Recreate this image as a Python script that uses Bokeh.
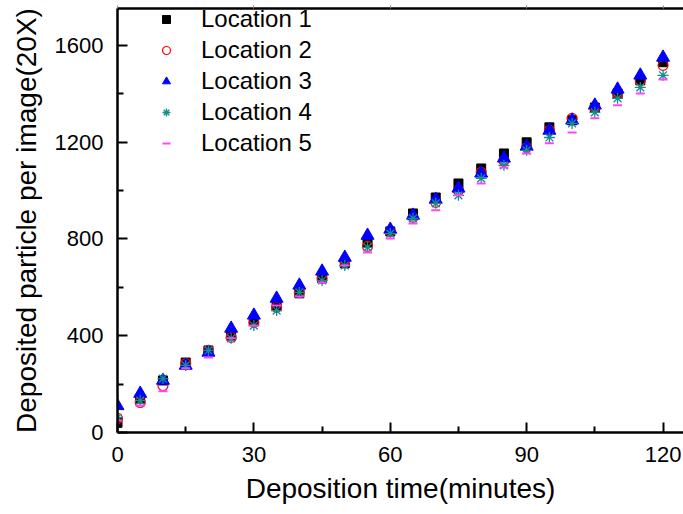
from bokeh.plotting import figure
from bokeh.models import ColumnDataSource, FixedTicker, LinearAxis, Range1d, Legend, LegendItem
from bokeh.embed import file_html
from bokeh.resources import INLINE

time_min = [0, 5, 10, 15, 20, 25, 30, 35, 40, 45, 50, 55, 60, 65, 70, 75, 80, 85, 90, 95, 100, 105, 110, 115, 120]
loc1 = [40, 140, 215, 289, 339, 401, 463, 525, 575, 637, 699, 785, 831, 905, 971, 1029, 1091, 1153, 1199, 1261, 1290, 1343, 1401, 1455, 1530]
loc2 = [58, 124, 194, 285, 339, 393, 455, 517, 579, 637, 711, 769, 831, 889, 951, 1000, 1075, 1124, 1178, 1248, 1298, 1343, 1401, 1455, 1517]
loc3 = [110, 161, 215, 277, 331, 430, 484, 554, 608, 666, 723, 814, 839, 897, 963, 1009, 1071, 1133, 1182, 1248, 1290, 1352, 1418, 1476, 1550]
loc4 = [62, 132, 223, 277, 339, 389, 442, 504, 579, 628, 690, 765, 822, 885, 947, 980, 1050, 1104, 1166, 1219, 1277, 1323, 1381, 1426, 1476]
loc5 = [50, 112, 170, 265, 310, 389, 442, 525, 562, 620, 690, 744, 802, 864, 918, 980, 1029, 1095, 1153, 1195, 1240, 1298, 1352, 1401, 1459]
labels = ["Location 1", "Location 2", "Location 3", "Location 4", "Location 5"]
x_ticks = [0, 30, 60, 90, 120]
x_minor = [15, 45, 75, 105]
y_ticks = [0, 400, 800, 1200, 1600]
y_minor = [200, 600, 1000, 1400]

FONT = "Liberation Sans"

p = figure(width=683, height=514, output_backend="svg", toolbar_location=None,
           x_range=Range1d(0, 124.5), y_range=Range1d(0, 1752),
           min_border_left=117, min_border_right=0, min_border_top=8, min_border_bottom=82)
p.outline_line_color = None
p.xgrid.visible = False
p.ygrid.visible = False
p.background_fill_color = "white"

src = ColumnDataSource(dict(x=time_min, l1=loc1, l2=loc2, l3=loc3, l4=loc4, l5=loc5))

r1 = p.scatter("x", "l1", source=src, marker="square", size=9, fill_color="black", line_color="black")
r2 = p.scatter("x", "l2", source=src, marker="circle", size=10, fill_color=None, line_color="red", line_width=1.2)
r3 = p.scatter("x", "l3", source=src, marker="triangle", size=13, fill_color="blue", line_color="blue")
r4 = p.scatter("x", "l4", source=src, marker="asterisk", size=11, line_color="#148c8c", line_width=1.3)
r5 = p.scatter("x", "l5", source=src, marker="dash", size=9, line_color="#ff44ff", line_width=2)

for ax, ticks, minor in ((p.xaxis[0], x_ticks, x_minor), (p.yaxis[0], y_ticks, y_minor)):
    ax.ticker = FixedTicker(ticks=ticks, minor_ticks=minor)
    ax.axis_line_width = 2.5
    ax.axis_line_color = "black"
    ax.major_tick_in = 10
    ax.major_tick_out = 0
    ax.minor_tick_in = 6
    ax.minor_tick_out = 0
    ax.major_tick_line_width = 2
    ax.minor_tick_line_width = 2
    ax.major_label_text_font = FONT
    ax.major_label_text_font_size = "22px"
    ax.major_label_text_color = "black"
    ax.axis_label_text_font = FONT
    ax.axis_label_text_font_size = "28px"
    ax.axis_label_text_font_style = "normal"
    ax.axis_label_text_color = "black"

p.xaxis[0].axis_label = "Deposition time(minutes)"
p.yaxis[0].axis_label = "Deposited particle per image(20X)"
p.xaxis[0].major_label_standoff = 14
p.yaxis[0].major_label_standoff = 14
p.xaxis[0].axis_label_standoff = 8
p.yaxis[0].axis_label_standoff = 10

top = LinearAxis(ticker=FixedTicker(ticks=x_ticks, minor_ticks=x_minor),
                 major_label_overrides={t: "" for t in x_ticks},
                 axis_line_width=2.5, axis_line_color="black", major_tick_in=0, major_tick_out=3,
                 minor_tick_in=0, minor_tick_out=0, major_tick_line_color="#888888")
p.add_layout(top, "above")

legend = Legend(items=[LegendItem(label=l, renderers=[r]) for l, r in zip(labels, [r1, r2, r3, r4, r5])],
                location=(39, 275), padding=0, margin=0, spacing=3,
                glyph_width=20, glyph_height=20, label_height=25, label_standoff=25,
                label_text_font=FONT, label_text_font_size="24px", label_text_color="black",
                border_line_color=None, background_fill_alpha=0)
p.add_layout(legend, "center")

open("out.html", "w").write(file_html(p, INLINE))
